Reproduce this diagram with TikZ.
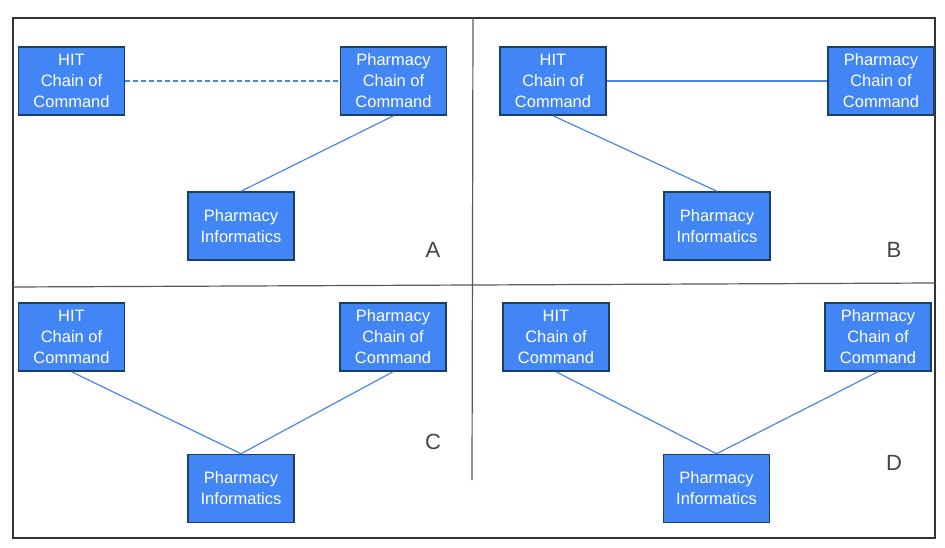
\documentclass[tikz,border=0pt]{standalone}
\usepackage{fontspec}
\setmainfont{Liberation Sans}
\usepackage{tikz}
\definecolor{boxblue}{HTML}{4285F4}
\definecolor{boxedge}{HTML}{1C3F5E}
\definecolor{linkblue}{HTML}{4A86E8}
\definecolor{labelgray}{HTML}{444444}
\tikzstyle{block} = [rectangle, draw=boxedge, line width=1.5pt, fill=boxblue,
    text=white, align=center, inner sep=0pt, minimum width=106pt,
    minimum height=68pt, font=\fontsize{16.5}{21}\selectfont]
\tikzstyle{line} = [draw=linkblue, line width=1.2pt]
\tikzstyle{dashline} = [line, dash pattern=on 5pt off 3pt]
\tikzstyle{letter} = [text=labelgray, font=\fontsize{22}{24}\selectfont]
\tikzstyle{frame} = [draw=black!80, line width=1.2pt]
\tikzstyle{divider} = [draw=black!65, line width=1.2pt]

\begin{document}
\begin{tikzpicture}[x=1pt,y=-1pt]
                \useasboundingbox (0,0) rectangle (945,548);
                \path [frame] (13,18) rectangle (935,538);
                \path [divider] (13,287) -- (935,283);
                \path [divider] (473,18) -- (472,480);
                % A
                \node [block] at (71.5,81) (hitA) {HIT\\Chain of\\Command};
                \node [block] at (393.5,81) (pcocA) {Pharmacy\\Chain of\\Command};
                \node [block] at (241,226) (infoA) {Pharmacy\\Informatics};
                \node [letter] at (433,250) (labA) {A};
                \path [dashline] (hitA) -- (pcocA);
                \path [line] (pcocA.south) -- (infoA.north);
                % B
                \node [block] at (553,81) (hitB) {HIT\\Chain of\\Command};
                \node [block] at (881,81) (pcocB) {Pharmacy\\Chain of\\Command};
                \node [block] at (717,226) (infoB) {Pharmacy\\Informatics};
                \node [letter] at (894,250) (labB) {B};
                \path [line] (hitB) -- (pcocB);
                \path [line] (hitB.south) -- (infoB.north);
                % C
                \node [block] at (71.5,337) (hitC) {HIT\\Chain of\\Command};
                \node [block] at (393,337) (pcocC) {Pharmacy\\Chain of\\Command};
                \node [block] at (241,488.5) (infoC) {Pharmacy\\Informatics};
                \node [letter] at (433,442) (labC) {C};
                \path [line] (hitC.south) -- (infoC.north);
                \path [line] (pcocC.south) -- (infoC.north);
                % D
                \node [block] at (556,337) (hitD) {HIT\\Chain of\\Command};
                \node [block] at (878,337) (pcocD) {Pharmacy\\Chain of\\Command};
                \node [block] at (716.5,488.5) (infoD) {Pharmacy\\Informatics};
                \node [letter] at (894,463) (labD) {D};
                \path [line] (hitD.south) -- (infoD.north);
                \path [line] (pcocD.south) -- (infoD.north);
            \end{tikzpicture}
\end{document}
